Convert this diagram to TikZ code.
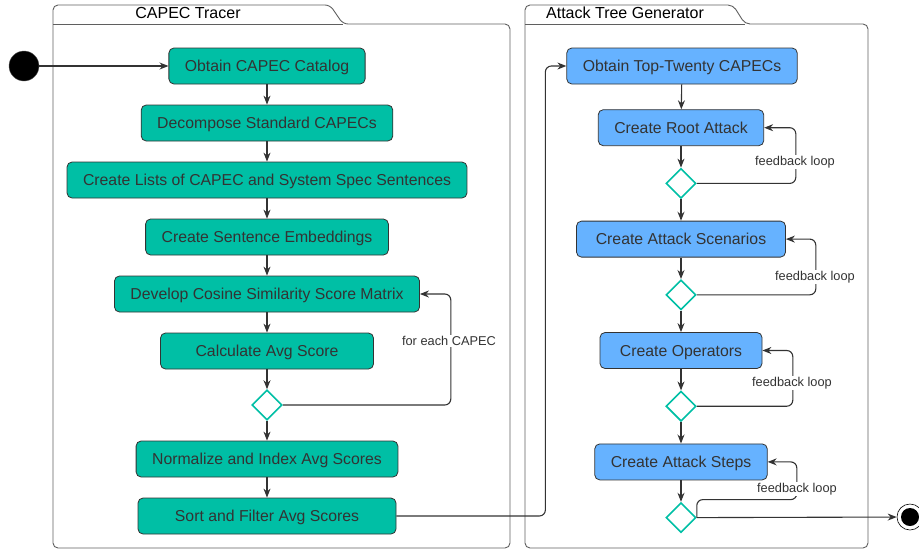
\documentclass[tikz,border=0pt]{standalone}
\usepackage{fontspec}
\setmainfont{Liberation Sans}
\usetikzlibrary{shapes.geometric,arrows.meta}
\definecolor{capecgreen}{RGB}{0,191,165}
\definecolor{treeblue}{RGB}{102,178,255}
\definecolor{inkgray}{RGB}{51,51,51}
\definecolor{framegray}{RGB}{95,95,95}

\begin{document}
\begin{tikzpicture}[x=1pt, y=-1pt, node distance=57pt, >={Stealth[length=9pt,width=7pt]}]
    \tikzstyle{tracer} = [rectangle, rounded corners=5pt, minimum height=36pt, inner xsep=16pt, text height=11.4pt, text depth=0pt, text centered, draw=inkgray, fill=capecgreen, text=inkgray, line width=0.8pt, font=\fontsize{15.8}{18}\selectfont]
    \tikzstyle{tree} = [rectangle, rounded corners=5pt, minimum height=36pt, inner xsep=16pt, text height=11.4pt, text depth=0pt, text centered, draw=inkgray, fill=treeblue, text=inkgray, line width=0.8pt, font=\fontsize{15.8}{18}\selectfont, node distance=55.7pt]
    \tikzstyle{decision} = [diamond, minimum size=30pt, inner sep=0pt, draw=capecgreen, line width=1.6pt, fill=white]
    \tikzstyle{flow} = [->, draw=inkgray, line width=1.1pt]
    \tikzstyle{loopflow} = [flow, rounded corners=6pt]
    \tikzstyle{looplabel} = [fill=white, inner sep=1pt, text=inkgray, font=\fontsize{12.8}{15}\selectfont]
    \tikzstyle{frame} = [draw=framegray, line width=0.9pt]
    \tikzstyle{title} = [text=black, font=\fontsize{16}{19}\selectfont]

    \useasboundingbox (0,0) rectangle (919,550);

    % Swimlane frames
    \draw [frame, rounded corners=5pt] (53,548) -- (53,5) -- (330,5) -- (343,24) -- (510,24) -- (510,548) -- cycle;
    \draw [frame] (53,24) -- (343,24);
    \node [title] (tracertitle) at (188,13) {CAPEC Tracer};
    \draw [frame, rounded corners=5pt] (525,548) -- (525,5) -- (733,5) -- (745,24) -- (868,24) -- (868,548) -- cycle;
    \draw [frame] (525,24) -- (745,24);
    \node [title] (treetitle) at (625,13) {Attack Tree Generator};

    % CAPEC Tracer
    \node [circle, fill=black, draw=framegray, minimum size=30pt, inner sep=0pt] (start) at (24,66) {};
    \node [tracer] (catalog) at (267,66) {Obtain CAPEC Catalog};
    \node [tracer, below of=catalog] (decompose) {Decompose Standard CAPECs};
    \node [tracer, below of=decompose] (lists) {Create Lists of CAPEC and System Spec Sentences};
    \node [tracer, below of=lists] (embed) {Create Sentence Embeddings};
    \node [tracer, below of=embed] (cosine) {Develop Cosine Similarity Score Matrix};
    \node [tracer, below of=cosine, minimum width=213pt] (avg) {Calculate Avg Score};
    \node [decision, below of=avg, yshift=3pt] (dec1) {};
    \node [tracer, below of=dec1, yshift=3pt] (normalize) {Normalize and Index Avg Scores};
    \node [tracer, below of=normalize, minimum width=258pt] (sortf) {Sort and Filter Avg Scores};

    % Attack Tree Generator
    \node [tree] (top20) at (682,66) {Obtain Top-Twenty CAPECs};
    \node [tree, below of=top20, yshift=-6pt, xshift=-1pt] (root) {Create Root Attack};
    \node [decision, node distance=55.7pt, below of=root] (dec2) {};
    \node [tree, below of=dec2, minimum width=209pt] (scen) {Create Attack Scenarios};
    \node [decision, node distance=55.7pt, below of=scen] (dec3) {};
    \node [tree, below of=dec3, minimum width=162pt] (oper) {Create Operators};
    \node [decision, node distance=55.7pt, below of=oper] (dec4) {};
    \node [tree, below of=dec4] (steps) {Create Attack Steps};
    \node [decision, node distance=55.7pt, below of=steps] (dec5) {};
    \node [circle, draw=black, line width=0.6pt, minimum size=26pt, inner sep=0pt] (stop) at (910,517) {};
    \node [circle, fill=black, minimum size=18pt, inner sep=0pt] (stopdot) at (stop) {};

    % Connections
    \draw [flow] (start) -- (catalog);
    \draw [flow] (catalog) -- (decompose);
    \draw [flow] (decompose) -- (lists);
    \draw [flow] (lists) -- (embed);
    \draw [flow] (embed) -- (cosine);
    \draw [flow] (cosine) -- (avg);
    \draw [flow] (avg) -- (dec1);
    \draw [flow] (dec1) -- (normalize);
    \draw [flow] (normalize) -- (sortf);
    \draw [loopflow] (dec1.east) -- ++(168,0) |- (cosine.east);
    \draw [loopflow] (sortf.east) -| ([xshift=-21pt]top20.west) -- (top20.west);

    \draw [flow] (top20) -- (root);
    \draw [flow] (root) -- (dec2);
    \draw [flow] (dec2) -- (scen);
    \draw [flow] (scen) -- (dec3);
    \draw [flow] (dec3) -- (oper);
    \draw [flow] (oper) -- (dec4);
    \draw [flow] (dec4) -- (steps);
    \draw [flow] (steps) -- (dec5);
    \draw [flow] (dec5.east) -- (stop);

    % Feedback loops
    \draw [loopflow] (dec2.east) -- ++(99,0) |- (root.east);
    \draw [loopflow] (dec3.east) -- ++(119,0) |- (scen.east);
    \draw [loopflow] (dec4.east) -- ++(96,0) |- (oper.east);
    \draw [loopflow] (dec5.east) -- ++(0,-18) -- ++(100,0) |- (steps.east);

    \node [looplabel] (eachlabel) at (449,341) {for each CAPEC};
    \node [looplabel] (rootlabel) at (795,162) {feedback loop};
    \node [looplabel] (scenlabel) at (815,277) {feedback loop};
    \node [looplabel] (operlabel) at (792,383) {feedback loop};
    \node [looplabel] (stepslabel) at (797,489) {feedback loop};
\end{tikzpicture}
\end{document}
